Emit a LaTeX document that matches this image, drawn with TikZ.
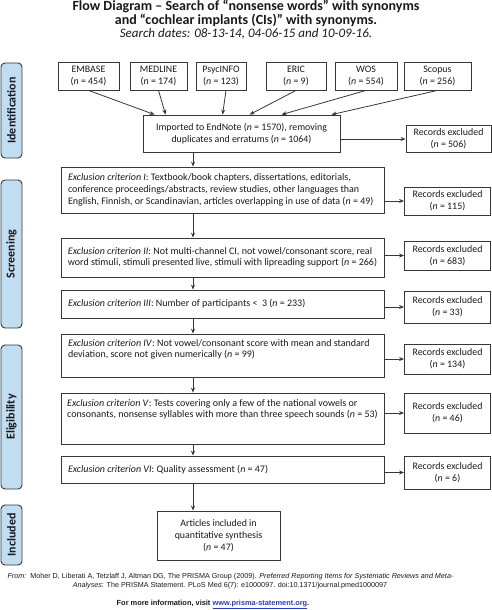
\documentclass[tikz,border=0pt]{standalone}
\usepackage{fontspec}
\setmainfont{Carlito}
\newfontfamily\arialf{Liberation Sans}
\usetikzlibrary{arrows.meta,calc}
\definecolor{sidefill}{RGB}{192,221,242}
\definecolor{edge}{RGB}{55,55,55}
\definecolor{linkblue}{RGB}{40,60,190}
\newcommand\firstline[1]{\makebox[309pt][l]{#1}}
\begin{document}
\begin{tikzpicture}[x=1pt,y=-1pt,
  every node/.style={font=\fontsize{9.9}{11.7}\selectfont, text=black!90},
  box/.style={draw=edge, line width=0.8pt, inner sep=0pt, align=center},
  crit/.style={box, minimum width=323pt, align=left, font=\fontsize{10}{11.7}\selectfont},
  rec/.style={box, minimum width=86pt},
  db/.style={box, minimum height=28pt},
  side/.style={draw=edge, line width=0.9pt, fill=sidefill, rounded corners=4pt, minimum width=21pt, inner sep=0pt},
  sidetext/.style={rotate=90, font=\fontsize{12}{13}\selectfont\bfseries},
  arr/.style={draw=edge, line width=0.8pt, -{Stealth[length=5pt,width=4pt]}}
]
\useasboundingbox (0,0) rectangle (492,610);

% title
\node[font=\fontsize{14}{14}\selectfont\bfseries, align=center] (title) at (246,13)
  {Flow Diagram -- Search of “nonsense words” with synonyms\\and “cochlear implants (CIs)” with synonyms.};
\node[font=\fontsize{13}{13}\selectfont\itshape] (dates) at (246,34) {Search dates: 08-13-14, 04-06-15 and 10-09-16.};

% side bars
\node[side, minimum height=95pt] (sId) at (11.5,110.5) {};
\node[sidetext] at (sId.center) {Identification};
\node[side, minimum height=148pt] (sSc) at (11.5,254) {};
\node[sidetext] at (sSc.center) {Screening};
\node[side, minimum height=144pt] (sEl) at (11.5,417) {};
\node[sidetext] at (sEl.center) {Eligibility};
\node[side, minimum height=60pt] (sIn) at (11.5,535) {};
\node[sidetext] at (sIn.center) {Included};

% databases
\node[db, minimum width=61pt] (embase) at (88.5,76) {EMBASE\\(\textit{n} = 454)};
\node[db, minimum width=57pt] (medline) at (158.5,76) {MEDLINE\\(\textit{n} = 174)};
\node[db, minimum width=50pt] (psyc) at (221,76) {PsycINFO\\(\textit{n} = 123)};
\node[db, minimum width=60pt] (eric) at (296,76) {ERIC\\(\textit{n} = 9)};
\node[db, minimum width=62pt] (wos) at (366,76) {WOS\\(\textit{n} = 554)};
\node[db, minimum width=67pt] (scopus) at (437.5,76) {Scopus\\(\textit{n} = 256)};

% imported
\node[box, minimum width=197pt, minimum height=37pt] (imp) at (241.5,133.5)
  {Imported to EndNote (\textit{n} = 1570), removing\\duplicates and erratums (\textit{n} = 1064)};
\node[rec, minimum width=85pt, minimum height=27pt] (r0) at (448.5,139) {Records excluded\\(\textit{n} = 506)};

% criteria
\node[crit, minimum height=46pt] (c1) at (222.5,190)
  {\firstline{\textit{Exclusion criterion I}: Textbook/book chapters, dissertations, editorials,}\\conference proceedings/abstracts, review studies, other languages than\\English, Finnish, or Scandinavian, articles overlapping in use of data (\textit{n} = 49)};
\node[rec, minimum height=28pt] (r1) at (447.5,201) {Records excluded\\(\textit{n} = 115)};

\node[crit, minimum height=39pt] (c2) at (222.5,257.5)
  {\firstline{\textit{Exclusion criterion II}: Not multi-channel CI, not vowel/consonant score, real}\\word stimuli, stimuli presented live, stimuli with lipreading support (\textit{n} = 266)};
\node[rec, minimum height=29pt] (r2) at (447.5,255.5) {Records excluded\\(\textit{n} = 683)};

\node[crit, minimum height=28pt] (c3) at (222.5,304)
  {\firstline{\textit{Exclusion criterion III}: Number of participants \textless\ \ 3 (\textit{n} = 233)}};
\node[rec, minimum height=32pt] (r3) at (447.5,307) {Records excluded\\(\textit{n} = 33)};

\node[crit, minimum height=43pt] (c4) at (222.5,355.5)
  {\firstline{\textit{Exclusion criterion IV}: Not vowel/consonant score with mean and standard}\\deviation, score not given numerically (\textit{n} = 99)\\[2pt]};
\node[rec, minimum height=30pt] (r4) at (447.5,359) {Records excluded\\(\textit{n} = 134)};

\node[crit, minimum height=51pt] (c5) at (222.5,418.5)
  {\firstline{\textit{Exclusion criterion V}: Tests covering only a few of the national vowels or}\\consonants, nonsense syllables with more than three speech sounds (\textit{n} = 53)\\[8pt]};
\node[rec, minimum height=40pt] (r5) at (447.5,413) {Records excluded\\(\textit{n} = 46)};

\node[crit, minimum height=27pt] (c6) at (222.5,469.5)
  {\firstline{\textit{Exclusion criterion VI}: Quality assessment (\textit{n} = 47)}};
\node[rec, minimum height=33pt] (r6) at (447.5,472.5) {Records excluded\\(\textit{n} = 6)};

\node[box, minimum width=123pt, minimum height=49pt, font=\fontsize{9.9}{12}\selectfont] (inc) at (218.5,535.5)
  {Articles included in\\quantitative synthesis\\(\textit{n} = 47)};

% connectors: databases
\draw[arr] (embase.south) -- ([xshift=12pt]imp.north west);
\draw[arr] (medline.south) -- ([xshift=23pt]imp.north west);
\draw[arr] ([xshift=5pt]psyc.south) -- ([xshift=80pt]imp.north west);
\draw[arr] (eric.south) -- ([xshift=107pt]imp.north west);
\draw[arr] (wos.south) -- ([xshift=139pt]imp.north west);
\draw[arr] (scopus.south) -- ([xshift=189pt]imp.north west);

% vertical flow
\coordinate (ax) at (193,0);
\draw[arr] (imp.south -| ax) -- (c1.north -| ax);
\draw[arr] (c1.south -| ax) -- (c2.north -| ax);
\draw[arr] (c2.south -| ax) -- (c3.north -| ax);
\draw[arr] (c3.south -| ax) -- (c4.north -| ax);
\draw[arr] (c4.south -| ax) -- (c5.north -| ax);
\draw[arr] (c5.south -| ax) -- (c6.north -| ax);
\draw[arr] (c6.south -| ax) -- (inc.north -| ax);

% exclusions
\draw[arr] (imp.east |- r0) -- (r0.west);
\draw[arr] (c1.east |- r1) -- (r1.west);
\draw[arr] (c2.east |- r2) -- (r2.west);
\draw[arr] (c3.east |- r3) -- (r3.west);
\draw[arr] (c4.east |- r4) -- (r4.west);
\draw[arr] (c5.east |- r5) -- (r5.west);
\draw[arr] (c6.east |- r6) -- (r6.west);

% footer
\node[anchor=west, font=\arialf\fontsize{7.2}{8}\selectfont] (from1) at (4,577)
  {\textit{From:}\ \ Moher D, Liberati A, Tetzlaff J, Altman DG, The PRISMA Group (2009). \textit{Preferred Reporting Items for Systematic Reviews and Meta-}};
\node[font=\arialf\fontsize{7.2}{8}\selectfont] (from2) at (230,585.5)
  {\textit{Analyses}: The PRISMA Statement. PLoS Med 6(7): e1000097. doi:10.1371/journal.pmed1000097};
\node[font=\arialf\fontsize{7.4}{8}\selectfont\bfseries] (more) at (213,604.5)
  {For more information, visit \textcolor{linkblue}{\underline{www.prisma-statement.org}}.};
\end{tikzpicture}
\end{document}
